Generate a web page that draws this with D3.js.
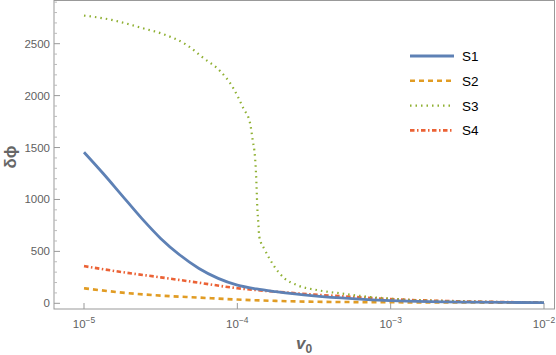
<!DOCTYPE html>
<html>
<head>
<meta charset="utf-8">
<script src="https://cdn.jsdelivr.net/npm/d3@7"></script>
<style>
  body { margin: 0; background: #fff; }
  svg { display: block; font-family: "Liberation Sans", Arial, sans-serif; }
</style>
</head>
<body>
<div id="chart"></div>
<script>
// series data (x = v0, y = delta phi)
const s1V = [1e-5, 1.334e-5, 1.778e-5, 2.371e-5, 3.162e-5, 4.217e-5, 5.623e-5, 7.499e-5, 1e-4, 1.334e-4, 1.778e-4, 2.371e-4, 3.162e-4, 5.623e-4, 1e-3, 1.778e-3, 3.162e-3, 1e-2];
const s1Y = [1455, 1250, 1035, 820, 625, 465, 335, 240, 175, 138, 112, 90, 72, 45, 26, 16, 11, 7];

const s2V = [1e-5, 1.778e-5, 3.162e-5, 5.623e-5, 1e-4, 1.778e-4, 3.162e-4, 1e-3, 1e-2];
const s2Y = [145, 103, 74, 55, 36, 23, 15, 10, 6];

const s3V = [1e-5, 1.514e-5, 1.718e-5, 2.377e-5, 3.289e-5, 4.677e-5, 5.998e-5, 7.709e-5, 9.419e-5, 1.094e-4, 1.211e-4, 1.259e-4, 1.303e-4, 1.324e-4, 1.337e-4, 1.349e-4, 1.371e-4, 1.390e-4, 1.514e-4, 1.718e-4, 1.995e-4, 2.438e-4, 3.296e-4, 4.677e-4, 6.982e-4, 1.148e-3, 3.162e-3, 1e-2];
const s3Y = [2771, 2729, 2710, 2652, 2592, 2488, 2363, 2238, 2071, 1879, 1734, 1573, 1412, 1252, 1092, 931, 771, 642, 513, 369, 250, 176, 128, 96, 64, 39, 18, 8];

const s4V = [1e-5, 1.778e-5, 3.162e-5, 5.623e-5, 1e-4, 1.778e-4, 3.162e-4, 5.623e-4, 1e-3, 3.162e-3, 1e-2];
const s4Y = [358, 300, 250, 198, 145, 112, 84, 62, 40, 18, 8];

const seriesNames = ["S1", "S2", "S3", "S4"];
const colors = ["#5E81B5", "#E19C24", "#8FB032", "#EB6235"];
const dashes = [null, "5,4", "1.5,4", "4.5,2.5,1.5,2.5"];
const widths = [2.8, 2.6, 2.2, 2.6];

const xTicks = [1e-5, 1e-4, 1e-3, 1e-2];
const yTicks = [0, 500, 1000, 1500, 2000, 2500];

const width = 556, height = 355;
const svg = d3.select("#chart").append("svg")
  .attr("width", width)
  .attr("height", height);

const x = d3.scaleLog().domain([1e-5, 1e-2]).range([84, 544]);
const y = d3.scaleLinear().domain([0, 2500]).range([303.3, 43.7]);

const frameL = 54, frameR = 554.5, frameT = 0.5, frameB = 309;
const gray = "#999";

// clip so the curves stay in the frame
svg.append("clipPath").attr("id", "clip")
  .append("rect")
  .attr("x", frameL).attr("y", frameT)
  .attr("width", frameR - frameL).attr("height", frameB - frameT);

// frame
svg.append("rect")
  .attr("x", frameL).attr("y", frameT)
  .attr("width", frameR - frameL).attr("height", frameB - frameT)
  .attr("fill", "none")
  .attr("stroke", gray)
  .attr("stroke-width", 1);

// y ticks (major + minor, pointing inward)
const yMinor = d3.range(0, 2901, 100).filter(v => v % 500 !== 0);
svg.append("g").selectAll("line.minor")
  .data(yMinor).enter().append("line")
  .attr("x1", frameL).attr("x2", frameL + 3)
  .attr("y1", d => y(d)).attr("y2", d => y(d))
  .attr("stroke", "#bbb");
svg.append("g").selectAll("line.major")
  .data(yTicks).enter().append("line")
  .attr("x1", frameL).attr("x2", frameL + 6)
  .attr("y1", d => y(d)).attr("y2", d => y(d))
  .attr("stroke", gray);
svg.append("g").selectAll("text")
  .data(yTicks).enter().append("text")
  .attr("x", frameL - 4)
  .attr("y", d => y(d) + 4)
  .attr("text-anchor", "end")
  .attr("font-size", 11.5)
  .attr("fill", "#5f5f5f")
  .text(d => d);

// x ticks
svg.append("g").selectAll("line")
  .data(xTicks).enter().append("line")
  .attr("x1", d => x(d)).attr("x2", d => x(d))
  .attr("y1", frameB).attr("y2", frameB - 6)
  .attr("stroke", gray);
const xLab = svg.append("g").selectAll("text")
  .data(xTicks).enter().append("text")
  .attr("x", d => x(d))
  .attr("y", 328)
  .attr("text-anchor", "middle")
  .attr("font-size", 11.5)
  .attr("fill", "#5f5f5f");
xLab.append("tspan").text("10");
xLab.append("tspan")
  .attr("dy", -5)
  .attr("font-size", 8.5)
  .text(d => "\u2212" + Math.round(-Math.log10(d)));

// axis titles
svg.append("text")
  .attr("transform", "translate(16,157) rotate(-90)")
  .attr("text-anchor", "middle")
  .attr("font-size", 17)
  .attr("font-weight", "bold")
  .attr("fill", "#666")
  .text("\u03B4\u03D5");

const xt = svg.append("text")
  .attr("x", 304).attr("y", 349)
  .attr("text-anchor", "middle")
  .attr("font-size", 17)
  .attr("font-weight", "bold")
  .attr("fill", "#666");
xt.append("tspan").attr("font-style", "italic").text("v");
xt.append("tspan").attr("dy", 4).attr("font-size", 12).text("0");

// curves
const allV = [s1V, s2V, s3V, s4V];
const allY = [s1Y, s2Y, s3Y, s4Y];
const line = d3.line()
  .x(d => x(d[0]))
  .y(d => y(d[1]))
  .curve(d3.curveMonotoneX);

const plot = svg.append("g").attr("clip-path", "url(#clip)");
// S2 at the bottom, S1 on top like the reference
[1, 3, 2, 0].forEach(i => {
  const pts = allV[i].map((v, k) => [v, allY[i][k]]);
  plot.append("path")
    .datum(pts)
    .attr("d", line)
    .attr("fill", "none")
    .attr("stroke", colors[i])
    .attr("stroke-width", widths[i])
    .attr("stroke-dasharray", dashes[i]);
});

// legend
const legend = svg.append("g").attr("transform", "translate(410,56)");
const item = legend.selectAll("g")
  .data(seriesNames).enter().append("g")
  .attr("transform", (d, i) => `translate(0, ${i * 24.8})`);
item.append("line")
  .attr("x1", 0).attr("x2", 44)
  .attr("y1", 0).attr("y2", 0)
  .attr("stroke", (d, i) => colors[i])
  .attr("stroke-width", (d, i) => widths[i])
  .attr("stroke-dasharray", (d, i) => dashes[i]);
item.append("text")
  .attr("x", 52)
  .attr("y", 5)
  .attr("font-size", 13.5)
  .attr("fill", "#000")
  .text(d => d);
</script>
</body>
</html>
